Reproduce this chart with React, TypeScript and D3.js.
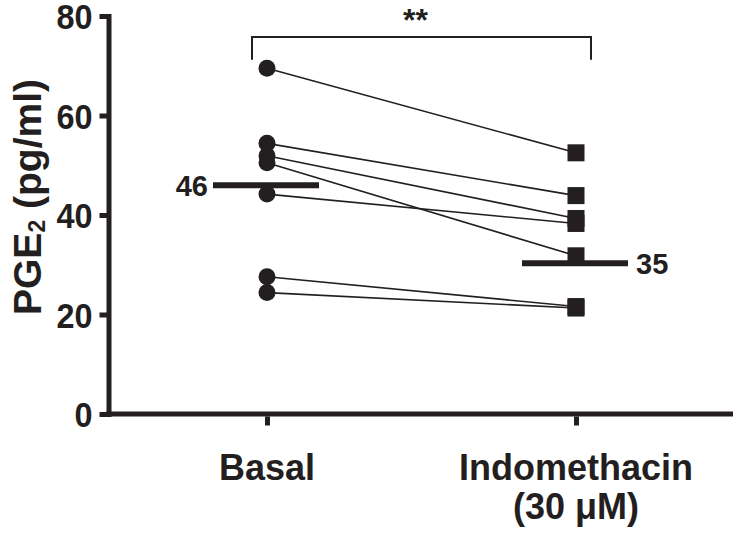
import React, { useEffect, useRef } from 'react'
import * as d3 from 'd3'

const categories = ['Basal', 'Indomethacin']
const categoryLabels = [['Basal'], ['Indomethacin', '(30 μM)']]
const basalValues = [69.5, 54.4, 51.9, 50.5, 44.2, 27.6, 24.4]
const indoValues = [52.5, 43.9, 39.3, 31.8, 38.3, 21.6, 21.3]
const meanLineValues = [46, 30.3]
const meanLabels = ['46', '35']
const yTicks = [0, 20, 40, 60, 80]
const bracketLevels = [75.8, 71.2]
const sigLabel = '**'

const WIDTH = 733
const HEIGHT = 539
const INK = '#231f20'
const FONT = '"Liberation Sans", Arial, Helvetica, sans-serif'

const App = () => {
  const ref = useRef<SVGSVGElement | null>(null)

  useEffect(() => {
    const svg = d3.select(ref.current)
    svg.selectAll('*').remove()

    const xScale = d3.scalePoint<string>().domain(categories).range([267, 576])
    const yScale = d3.scaleLinear().domain([0, 80]).range([414, 16])
    const axisX = 108.5
    const squeeze = 0.9

    // y axis
    const yAxis = svg
      .append('g')
      .attr('transform', `translate(${axisX},0)`)
      .call(d3.axisLeft(yScale).tickValues(yTicks).tickSize(9).tickSizeOuter(0).tickPadding(7))
    yAxis.select('.domain').attr('stroke', INK).attr('stroke-width', 5).attr('stroke-linecap', 'square')
    yAxis.selectAll('.tick line').attr('stroke', INK).attr('stroke-width', 5)
    yAxis
      .selectAll('.tick text')
      .attr('fill', INK)
      .attr('font-family', FONT)
      .attr('font-weight', 'bold')
      .attr('font-size', 36)
      .attr('x', -16 / squeeze)
      .attr('dy', '0.35em')
      .attr('transform', `scale(${squeeze},1)`)

    // x baseline
    svg
      .append('line')
      .attr('x1', axisX - 2.5)
      .attr('x2', WIDTH)
      .attr('y1', yScale(0))
      .attr('y2', yScale(0))
      .attr('stroke', INK)
      .attr('stroke-width', 5)

    const xAxis = svg
      .append('g')
      .attr('transform', `translate(0,${yScale(0) + 2.5})`)
      .call(d3.axisBottom(xScale).tickSize(9).tickSizeOuter(0).tickFormat(() => ''))
    xAxis.select('.domain').remove()
    xAxis.selectAll('.tick line').attr('stroke', INK).attr('stroke-width', 5)

    categoryLabels.forEach((lines, i) => {
      const t = svg
        .append('text')
        .attr('x', xScale(categories[i]) as number)
        .attr('y', 480)
        .attr('text-anchor', 'middle')
        .attr('fill', INK)
        .attr('font-family', FONT)
        .attr('font-weight', 'bold')
        .attr('font-size', 36)
      lines.forEach((line, j) => {
        t.append('tspan')
          .attr('x', xScale(categories[i]) as number)
          .attr('dy', j === 0 ? 0 : 39)
          .text(line)
      })
    })

    // y label
    const yLabel = svg
      .append('text')
      .attr('transform', `translate(41,197) rotate(-90)`)
      .attr('text-anchor', 'middle')
      .attr('fill', INK)
      .attr('font-family', FONT)
      .attr('font-weight', 'bold')
      .attr('font-size', 39)
    yLabel.append('tspan').text('PGE')
    yLabel.append('tspan').attr('font-size', 23).attr('dy', 4).text('2')
    yLabel.append('tspan').attr('dy', -4).text(' (pg/ml)')

    // paired lines
    const x0 = xScale(categories[0]) as number
    const x1 = xScale(categories[1]) as number
    svg
      .selectAll('line.pair')
      .data(basalValues)
      .enter()
      .append('line')
      .attr('class', 'pair')
      .attr('x1', x0)
      .attr('x2', x1)
      .attr('y1', d => yScale(d))
      .attr('y2', (d, i) => yScale(indoValues[i]))
      .attr('stroke', INK)
      .attr('stroke-width', 1.6)

    svg
      .selectAll('circle.basal')
      .data(basalValues)
      .enter()
      .append('circle')
      .attr('class', 'basal')
      .attr('cx', x0)
      .attr('cy', d => yScale(d))
      .attr('r', 8.5)
      .attr('fill', INK)

    svg
      .selectAll('rect.indo')
      .data(indoValues)
      .enter()
      .append('rect')
      .attr('class', 'indo')
      .attr('x', x1 - 8.5)
      .attr('y', d => yScale(d) - 8.5)
      .attr('width', 17)
      .attr('height', 17)
      .attr('fill', INK)

    // mean lines and labels
    meanLineValues.forEach((v, i) => {
      const cx = xScale(categories[i]) as number
      svg
        .append('line')
        .attr('x1', cx - 54)
        .attr('x2', cx + 52)
        .attr('y1', yScale(v))
        .attr('y2', yScale(v))
        .attr('stroke', INK)
        .attr('stroke-width', 6)
      svg
        .append('text')
        .attr('x', i === 0 ? cx - 59 : cx + 60)
        .attr('y', yScale(v))
        .attr('dy', '0.36em')
        .attr('text-anchor', i === 0 ? 'end' : 'start')
        .attr('fill', INK)
        .attr('font-family', FONT)
        .attr('font-weight', 'bold')
        .attr('font-size', 29)
        .text(meanLabels[i])
    })

    // significance bracket
    const bx0 = x0 - 15
    const bx1 = x1 + 15
    svg
      .append('path')
      .attr(
        'd',
        `M${bx0},${yScale(bracketLevels[1])}V${yScale(bracketLevels[0])}H${bx1}V${yScale(bracketLevels[1])}`
      )
      .attr('fill', 'none')
      .attr('stroke', INK)
      .attr('stroke-width', 2)
    svg
      .append('text')
      .attr('x', (bx0 + bx1) / 2 - 6)
      .attr('y', 31)
      .attr('text-anchor', 'middle')
      .attr('fill', INK)
      .attr('font-family', FONT)
      .attr('font-weight', 'bold')
      .attr('font-size', 32)
      .text(sigLabel)
  }, [])

  return (
    <div style={{ position: 'absolute', left: 0, top: 0 }}>
      <svg ref={ref} width={WIDTH} height={HEIGHT} style={{ display: 'block', background: '#fff' }}></svg>
    </div>
  )
}

export default App
